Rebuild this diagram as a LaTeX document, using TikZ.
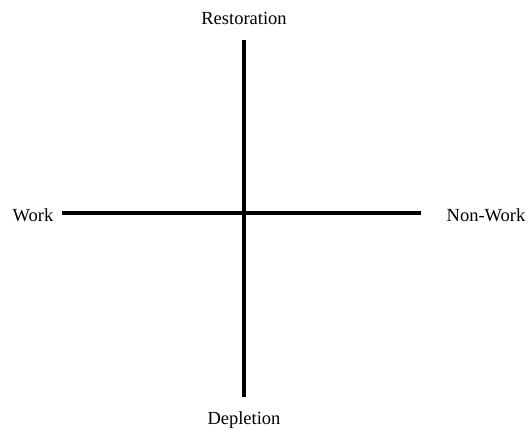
\documentclass[tikz,border=0pt]{standalone}
\usepackage{fontspec}
\setmainfont{Liberation Serif}
\usepackage{tikz}

\begin{document}
\begin{tikzpicture}[x=1pt,y=-1pt,lab/.style={font=\fontsize{18.5}{21}\selectfont,inner sep=0pt},ax/.style={line width=3.5pt}]
\useasboundingbox (0,0) rectangle (529,430);
\coordinate (top) at (244,40);
\coordinate (bot) at (244,397);
\coordinate (lft) at (62,213);
\coordinate (rgt) at (421,213);

\draw[ax] (top)--(bot);
\draw[ax] (lft)--(rgt);

\node[lab] (rest) at (244,18) {Restoration};
\node[lab] (depl) at (244,420) {Depletion};
\node[lab] (work) at (33,215) {Work};
\node[lab] (nonw) at (486,215) {Non-Work};
\end{tikzpicture}
\end{document}
